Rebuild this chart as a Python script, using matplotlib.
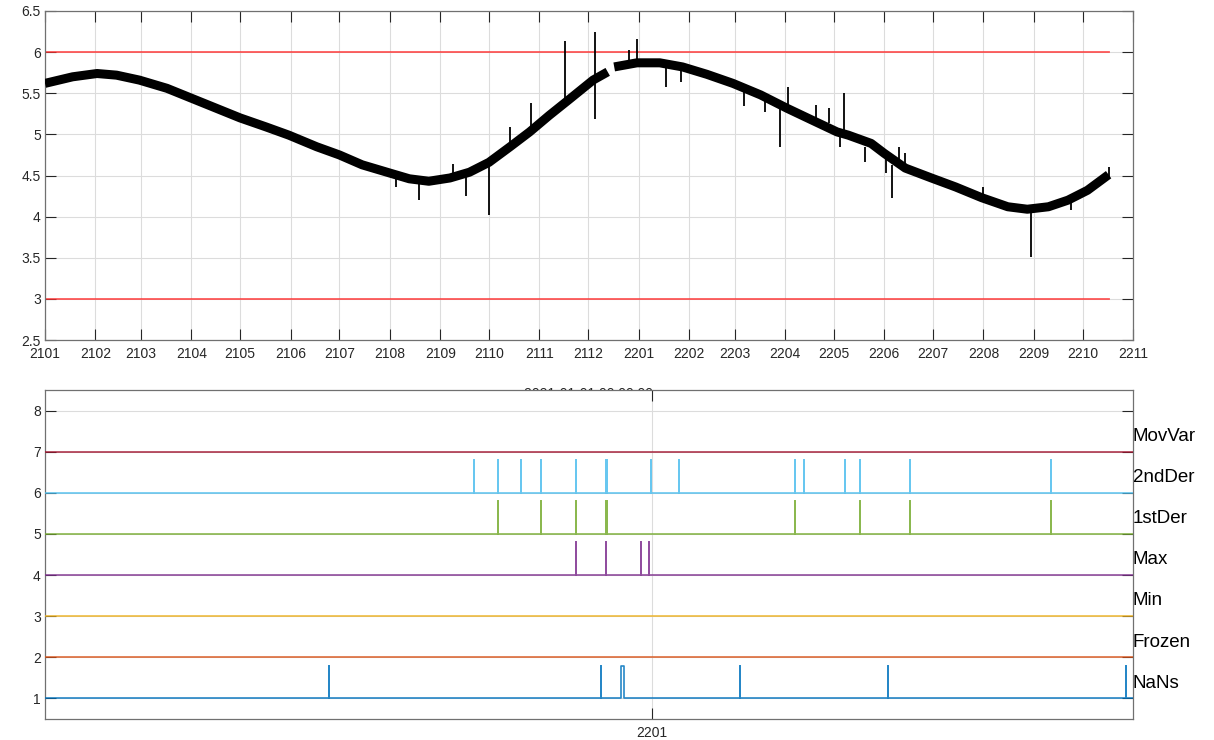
import numpy as np
import pandas as pd
import matplotlib
matplotlib.use('Agg')
import matplotlib.pyplot as plt
import matplotlib.dates as mdates
import matplotlib.transforms as mtransforms

plt.rcParams['font.family'] = ['Liberation Sans', 'DejaVu Sans']

signal_dates = ['2021-01-01', '2021-01-18', '2021-02-02', '2021-02-14', '2021-02-28',
                '2021-03-17', '2021-04-01', '2021-04-16', '2021-05-01', '2021-05-17',
                '2021-05-31', '2021-06-17', '2021-07-01', '2021-07-15', '2021-08-01',
                '2021-08-13', '2021-08-25', '2021-09-07', '2021-09-19', '2021-10-01',
                '2021-10-14', '2021-10-26', '2021-11-07', '2021-11-19', '2021-11-24',
                '2021-12-04', '2021-12-13', '2021-12-15', '2021-12-17', '2021-12-31',
                '2022-01-14', '2022-01-28', '2022-02-12', '2022-02-28', '2022-03-17',
                '2022-04-02', '2022-04-18', '2022-05-03', '2022-05-10', '2022-05-24',
                '2022-06-01', '2022-06-14', '2022-06-30', '2022-07-15', '2022-07-31',
                '2022-08-16', '2022-08-28', '2022-09-10', '2022-09-22', '2022-10-04',
                '2022-10-17']
signal_values = [5.62, 5.70, 5.74, 5.72, 5.66,
                 5.56, 5.44, 5.32, 5.20, 5.09,
                 4.99, 4.85, 4.75, 4.63, 4.53,
                 4.46, 4.43, 4.47, 4.54, 4.66,
                 4.85, 5.03, 5.23, 5.42, 5.50,
                 5.66, 5.76, np.nan, 5.82, 5.87,
                 5.87, 5.82, 5.73, 5.62, 5.48,
                 5.32, 5.17, 5.03, 4.99, 4.89,
                 4.77, 4.59, 4.47, 4.36, 4.23,
                 4.12, 4.09, 4.12, 4.20, 4.32,
                 4.51]

# single outliers on top of the signal: date, lowest and highest value
spike_dates = ['2021-08-05', '2021-08-19', '2021-09-09', '2021-09-17', '2021-10-01',
               '2021-10-14', '2021-10-27', '2021-11-17', '2021-12-05', '2021-12-26',
               '2021-12-31', '2022-01-18', '2022-01-27', '2022-02-21', '2022-03-07',
               '2022-03-20', '2022-03-29', '2022-04-03', '2022-04-20', '2022-04-28',
               '2022-05-05', '2022-05-07', '2022-05-20', '2022-06-02', '2022-06-06',
               '2022-06-10', '2022-06-14', '2022-08-01', '2022-08-30', '2022-09-24',
               '2022-10-17']
spike_low = [4.36, 4.20, 4.47, 4.25, 4.02,
             4.89, 5.02, 5.39, 5.19, 5.90,
             5.84, 5.57, 5.64, 5.62, 5.34,
             5.27, 4.85, 5.30, 5.17, 5.14,
             4.85, 5.05, 4.66, 4.53, 4.23,
             4.60, 4.59, 4.23, 3.51, 4.08,
             4.48]
spike_high = [4.54, 4.45, 4.64, 4.48, 4.63,
              5.09, 5.38, 6.13, 6.24, 6.02,
              6.16, 5.84, 5.82, 5.69, 5.54,
              5.42, 5.32, 5.57, 5.36, 5.32,
              5.05, 5.50, 4.85, 4.77, 4.63,
              4.85, 4.77, 4.36, 4.08, 4.20,
              4.60]

lower_limit = 3
upper_limit = 6

# quality flags (start, end) for the lower panel
nan_flags = [('2021-06-21', '2021-06-21'), ('2021-12-01', '2021-12-01'),
             ('2021-12-13', '2021-12-15'), ('2022-02-23', '2022-02-23'),
             ('2022-05-23', '2022-05-23'), ('2022-10-13', '2022-10-13')]
frozen_flags = []
min_flags = []
max_flags = [('2021-11-16', '2021-11-16'), ('2021-12-04', '2021-12-04'),
             ('2021-12-25', '2021-12-25'), ('2021-12-30', '2021-12-30')]
der1_flags = [('2021-09-30', '2021-09-30'), ('2021-10-26', '2021-10-26'),
              ('2021-11-16', '2021-11-16'), ('2021-12-04', '2021-12-04'),
              ('2021-12-05', '2021-12-05'), ('2022-03-28', '2022-03-28'),
              ('2022-05-06', '2022-05-06'), ('2022-06-05', '2022-06-05'),
              ('2022-08-29', '2022-08-29')]
der2_flags = [('2021-09-16', '2021-09-16'), ('2021-09-30', '2021-09-30'),
              ('2021-10-14', '2021-10-14'), ('2021-10-26', '2021-10-26'),
              ('2021-11-16', '2021-11-16'), ('2021-12-04', '2021-12-04'),
              ('2021-12-05', '2021-12-05'), ('2021-12-31', '2021-12-31'),
              ('2022-01-17', '2022-01-17'), ('2022-03-28', '2022-03-28'),
              ('2022-04-02', '2022-04-02'), ('2022-04-27', '2022-04-27'),
              ('2022-05-06', '2022-05-06'), ('2022-06-05', '2022-06-05'),
              ('2022-08-29', '2022-08-29')]
movvar_flags = []

flag_names = ['NaNs', 'Frozen', 'Min', 'Max', '1stDer', '2ndDer', 'MovVar']
flag_colors = ['#0072BD', '#D95319', '#EDB120', '#7E2F8E', '#77AC30', '#4DBEEE', '#A2142F']
flag_lists = [nan_flags, frozen_flags, min_flags, max_flags, der1_flags, der2_flags, movvar_flags]

data_start = pd.Timestamp('2021-01-01')
data_end = pd.Timestamp('2022-10-17')

AX_COLOR = '#262626'
GRID_COLOR = '#dcdcdc'


def style_axes(ax):
    for sp in ax.spines.values():
        sp.set_color('#707070')
        sp.set_linewidth(0.9)
    ax.tick_params(direction='in', length=8, width=0.8, color=AX_COLOR,
                   labelcolor=AX_COLOR, labelsize=10, top=True, right=True, pad=3)
    ax.tick_params(axis='x', pad=5)
    ax.grid(True, color=GRID_COLOR, linewidth=0.8)
    ax.set_axisbelow(True)


def flag_line(events, start, end):
    """Turn (start, end) flag intervals into a 0/1 step line."""
    xs, ys = [start], [0]
    for s, e in events:
        s, e = pd.Timestamp(s), pd.Timestamp(e)
        xs += [s, s, e, e]
        ys += [0, 1, 1, 0]
    xs.append(end)
    ys.append(0)
    return xs, np.array(ys, dtype=float)


fig = plt.figure(figsize=(12.14, 7.4), dpi=100)
W, H = 1214, 740
ax_top = fig.add_axes([45 / W, 1 - 340 / H, 1088 / W, 329 / H])
ax_bot = fig.add_axes([45 / W, 1 - 719 / H, 1088 / W, 329 / H])

# --- top panel: signal with limits ---
style_axes(ax_top)
sig_x = pd.to_datetime(signal_dates)
ax_top.plot(sig_x, signal_values, color='black', linewidth=6.5,
            solid_capstyle='butt', solid_joinstyle='round', zorder=3)
ax_top.vlines(pd.to_datetime(spike_dates), spike_low, spike_high,
              color='black', linewidth=1.3, zorder=3)
ax_top.plot([data_start, data_end], [upper_limit, upper_limit], color='#ff3030', alpha=0.8, linewidth=1.3, zorder=2)
ax_top.plot([data_start, data_end], [lower_limit, lower_limit], color='#ff3030', alpha=0.8, linewidth=1.3, zorder=2)

ax_top.set_xlim(pd.Timestamp('2021-01-01'), pd.Timestamp('2022-11-01'))
ax_top.set_ylim(2.5, 6.5)
yt = np.arange(2.5, 6.51, 0.5)
ax_top.set_yticks(yt)
ax_top.set_yticklabels(['%g' % v for v in yt])
ax_top.xaxis.set_major_locator(mdates.MonthLocator())
ax_top.xaxis.set_major_formatter(mdates.DateFormatter('%y%m'))
# date label of the top axis, mostly hidden behind the lower panel
ax_top.text(0.4845, 1 - 387 / H, '2021-01-01 00:00:00', transform=fig.transFigure,
            ha='center', va='top', fontsize=10, color=AX_COLOR, clip_on=False)

# --- bottom panel: flags ---
style_axes(ax_bot)
for level, (name, color, events) in enumerate(zip(flag_names, flag_colors, flag_lists), start=1):
    xs, ys = flag_line(events, data_start, data_end)
    ax_bot.plot(xs, level + 0.8 * ys, color=color, linewidth=1.2, alpha=0.85, zorder=3)
    ax_bot.text(1.0, level + 0.37, name,
                transform=mtransforms.blended_transform_factory(ax_bot.transAxes, ax_bot.transData),
                ha='left', va='center', fontsize=13.5, color='black')

ax_bot.set_xlim(data_start, data_end)
ax_bot.set_ylim(0.5, 8.5)
ax_bot.set_yticks(range(1, 9))
ax_bot.set_xticks([pd.Timestamp('2022-01-01')])
ax_bot.xaxis.set_major_formatter(mdates.DateFormatter('%y%m'))

fig.savefig('out.png', dpi=100)
